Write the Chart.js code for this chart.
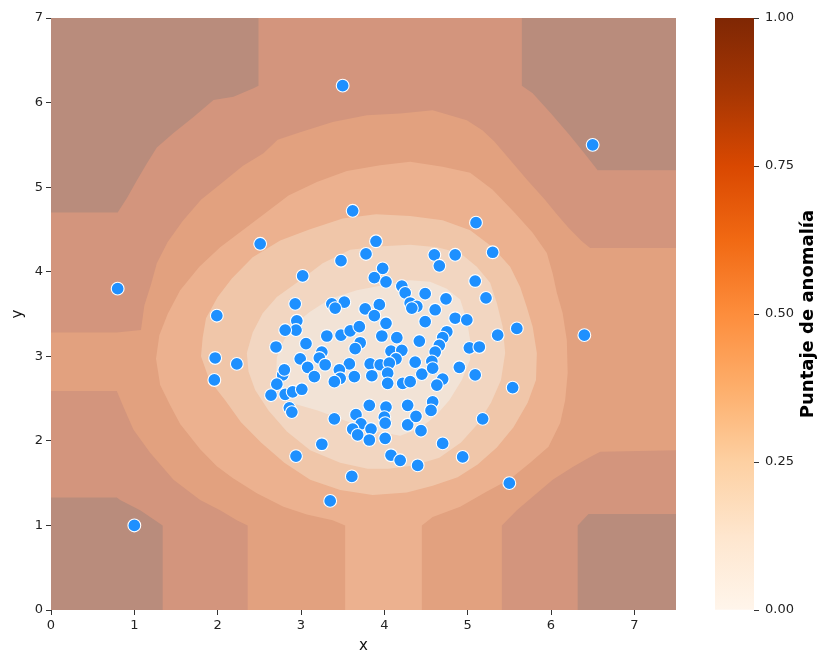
<!DOCTYPE html>
<html>
<head>
<meta charset="utf-8">
<script src="https://cdn.jsdelivr.net/npm/chart.js@4/dist/chart.umd.min.js"></script>
<style>
  html, body { margin: 0; padding: 0; background: #ffffff; }
  #wrap { position: relative; width: 818px; height: 651px; }
  #main { position: absolute; left: 0; top: 0; }
  #cbar { position: absolute; left: 700px; top: 0; }
</style>
</head>
<body>
<div id="wrap">
  <canvas id="main" width="700" height="651"></canvas>
  <canvas id="cbar" width="118" height="651"></canvas>
</div>
<script>
// Observations
const pointsX = [3.5, 6.5, 0.8, 1.0, 6.4, 5.5, 3.35, 3.61, 3.62, 2.51, 1.99, 1.97, 1.96, 2.23, 2.94, 3.25,
  5.10, 5.30, 5.22, 5.09, 5.59, 5.36, 5.54, 5.18, 4.94, 4.70, 4.40, 3.02, 3.48, 3.90, 3.78, 3.98,
  4.60, 4.85, 4.66, 3.88, 4.02, 4.21, 4.25, 4.31, 4.39, 4.33, 4.49, 4.74, 4.61, 4.85, 4.99, 4.49,
  4.75, 4.70, 4.66, 4.61, 4.42, 5.02, 5.14, 2.93, 3.37, 3.52, 3.41, 3.77, 3.94, 3.88, 4.02, 2.95,
  2.94, 2.81, 2.70, 3.06, 3.31, 3.48, 3.59, 3.70, 3.71, 3.65, 3.97, 4.15, 4.08, 4.21, 4.14, 2.99,
  3.25, 3.22, 3.08, 3.29, 3.16, 3.58, 3.46, 3.47, 3.40, 3.64, 3.83, 3.95, 3.85, 4.06, 4.04, 4.04,
  4.22, 4.31, 2.78, 2.80, 2.71, 2.64, 2.81, 2.90, 3.01, 2.86, 2.89, 3.40, 3.82, 4.02, 3.66, 3.72,
  3.84, 3.62, 3.68, 4.00, 4.01, 4.28, 4.28, 4.01, 4.08, 4.19, 4.90, 5.09, 4.57, 4.37, 4.45, 4.58,
  4.70, 4.63, 4.58, 4.56, 4.38, 4.44, 3.82];
const pointsY = [6.2, 5.5, 3.8, 1.0, 3.25, 1.5, 1.29, 1.58, 4.72, 4.33, 3.48, 2.98, 2.72, 2.91, 1.82, 1.96,
  4.58, 4.23, 3.69, 3.89, 3.33, 3.25, 2.63, 2.26, 1.81, 1.97, 1.71, 3.95, 4.13, 4.36, 4.21, 4.04,
  4.20, 4.20, 4.07, 3.93, 3.88, 3.83, 3.75, 3.63, 3.59, 3.57, 3.74, 3.68, 3.55, 3.45, 3.43, 3.41,
  3.29, 3.22, 3.13, 3.05, 3.18, 3.10, 3.11, 3.62, 3.62, 3.64, 3.57, 3.56, 3.61, 3.48, 3.39, 3.42,
  3.31, 3.31, 3.11, 3.15, 3.24, 3.25, 3.30, 3.35, 3.16, 3.09, 3.24, 3.22, 3.06, 3.07, 2.97, 2.97,
  3.05, 2.98, 2.87, 2.90, 2.76, 2.91, 2.84, 2.74, 2.70, 2.76, 2.91, 2.90, 2.77, 2.92, 2.80, 2.68,
  2.68, 2.70, 2.78, 2.84, 2.67, 2.54, 2.55, 2.58, 2.61, 2.39, 2.34, 2.26, 2.42, 2.40, 2.31, 2.20,
  2.14, 2.14, 2.07, 2.28, 2.21, 2.42, 2.19, 2.03, 1.83, 1.77, 2.87, 2.78, 2.94, 2.93, 2.79, 2.86,
  2.73, 2.66, 2.46, 2.36, 2.29, 2.12, 2.01];

// Filled anomaly-score bands, darkest (outermost) first; each band is the region inside its outline
const bandColors = ['#b98c7c', '#d3957d', '#e2a17f', '#ecb18f', '#f0c6a9', '#f2d6c1', '#f2e3d6'];

const band1 = [[0,4.70],[0.80,4.70],[0.91,4.87],[1.03,5.08],[1.15,5.28],[1.27,5.47],[1.47,5.64],[1.71,5.83],
  [1.95,6.03],[2.19,6.07],[2.43,6.17],[2.49,6.20],[2.49,7],[5.65,7],[5.65,6.20],[5.78,6.11],[6.00,5.87],
  [6.22,5.62],[6.40,5.40],[6.56,5.20],[7.5,5.20],[7.5,1.135],[6.45,1.135],[6.32,1.00],[6.32,0],[1.34,0],
  [1.34,1.00],[1.07,1.18],[0.83,1.30],[0.79,1.33],[0,1.33]];

const band2 = [[0,3.28],[0.79,3.28],[1.08,3.31],[1.12,3.60],[1.20,3.85],[1.27,4.10],[1.40,4.35],[1.58,4.60],
  [1.80,4.85],[2.05,5.05],[2.30,5.25],[2.55,5.40],[2.72,5.56],[2.99,5.65],[3.38,5.77],[3.79,5.85],[4.19,5.87],
  [4.58,5.91],[4.99,5.79],[5.18,5.67],[5.32,5.54],[5.51,5.32],[5.72,5.08],[5.92,4.86],[6.07,4.68],[6.21,4.52],
  [6.37,4.36],[6.47,4.28],[7.5,4.28],[7.5,1.89],[6.59,1.87],[6.47,1.81],[6.26,1.69],[6.02,1.54],[5.78,1.34],
  [5.59,1.18],[5.41,1.00],[5.41,0],[2.36,0],[2.36,1.00],[2.23,1.06],[2.03,1.18],[1.79,1.30],[1.47,1.54],
  [1.19,1.86],[0.99,2.13],[0.87,2.40],[0.79,2.59],[0,2.59]];

const band3 = [[1.26,2.97],[1.30,3.25],[1.40,3.50],[1.55,3.78],[1.78,4.06],[2.03,4.29],[2.30,4.49],[2.57,4.69],
  [2.85,4.90],[3.19,5.06],[3.55,5.19],[3.95,5.26],[4.31,5.30],[4.70,5.24],[5.03,5.17],[5.30,4.97],[5.57,4.69],
  [5.78,4.46],[5.95,4.22],[6.02,3.98],[6.07,3.75],[6.14,3.51],[6.19,3.19],[6.20,2.80],[6.17,2.48],[6.11,2.21],
  [5.97,1.93],[5.75,1.74],[5.51,1.55],[5.23,1.40],[4.91,1.22],[4.58,1.10],[4.45,1.00],[4.45,0],[3.53,0],
  [3.53,1.00],[3.38,1.06],[3.07,1.13],[2.79,1.22],[2.47,1.38],[2.18,1.56],[1.99,1.70],[1.79,1.90],[1.55,2.20],
  [1.43,2.42],[1.31,2.66]];

const band4 = [[1.80,3.00],[1.82,3.22],[1.86,3.45],[2.00,3.70],[2.17,3.92],[2.42,4.17],[2.75,4.37],[3.10,4.50],
  [3.50,4.63],[3.90,4.68],[4.31,4.66],[4.70,4.61],[5.03,4.49],[5.30,4.29],[5.51,4.06],[5.63,3.82],[5.71,3.58],
  [5.78,3.35],[5.83,3.04],[5.82,2.72],[5.72,2.45],[5.55,2.16],[5.35,1.92],[5.12,1.72],[4.88,1.57],[4.58,1.47],
  [4.27,1.39],[3.86,1.36],[3.47,1.42],[3.11,1.54],[2.80,1.74],[2.52,1.98],[2.28,2.22],[2.09,2.48],[1.90,2.72]];

const band5 = [[2.35,3.04],[2.42,3.28],[2.54,3.51],[2.71,3.70],[2.99,3.90],[3.26,4.10],[3.59,4.26],[3.98,4.30],
  [4.31,4.32],[4.63,4.29],[4.91,4.22],[5.11,4.06],[5.27,3.87],[5.35,3.63],[5.42,3.35],[5.45,3.04],[5.40,2.72],
  [5.28,2.45],[5.12,2.20],[4.92,1.98],[4.66,1.80],[4.35,1.71],[4.05,1.67],[3.80,1.67],[3.47,1.74],[3.11,1.89],
  [2.83,2.11],[2.61,2.36],[2.45,2.60],[2.37,2.82]];

const band6 = [[2.71,2.99],[2.80,3.20],[2.95,3.40],[3.10,3.52],[3.35,3.68],[3.67,3.78],[3.98,3.84],[4.31,3.90],
  [4.55,3.88],[4.75,3.80],[4.91,3.67],[4.99,3.43],[5.03,3.19],[5.03,2.96],[4.93,2.72],[4.78,2.48],[4.62,2.30],
  [4.43,2.15],[4.19,2.06],[3.86,2.12],[3.50,2.25],[3.20,2.36],[2.92,2.44],[2.75,2.58],[2.70,2.75]];

const bands = [band1, band2, band3, band4, band5, band6];

// Colour bar
const cbTicks = [0, 0.25, 0.5, 0.75, 1];
const orangesStops = ['#fff5eb', '#fee6ce', '#fdd0a2', '#fdae6b', '#fd8d3c', '#f16913', '#d94801', '#a63603', '#7f2704'];

const FONT = '"DejaVu Sans", "Liberation Sans", sans-serif';

const contourFill = {
  id: 'contourFill',
  beforeDatasetsDraw(chart) {
    const { ctx, chartArea: a, scales: { x, y } } = chart;
    ctx.save();
    ctx.beginPath();
    ctx.rect(a.left, a.top, a.right - a.left, a.bottom - a.top);
    ctx.clip();
    ctx.fillStyle = bandColors[0];
    ctx.fillRect(a.left, a.top, a.right - a.left, a.bottom - a.top);
    bands.forEach((poly, i) => {
      ctx.beginPath();
      poly.forEach(([vx, vy], k) => {
        const px = x.getPixelForValue(vx), py = y.getPixelForValue(vy);
        if (k === 0) ctx.moveTo(px, py); else ctx.lineTo(px, py);
      });
      ctx.closePath();
      ctx.fillStyle = bandColors[i + 1];
      ctx.fill();
    });
    ctx.restore();
  }
};

const tickFont = { family: FONT, size: 13 };

new Chart(document.getElementById('main'), {
  type: 'scatter',
  data: {
    datasets: [{
      data: pointsX.map((v, i) => ({ x: v, y: pointsY[i] })),
      pointRadius: 6.4,
      pointBackgroundColor: '#1e90ff',
      pointBorderColor: '#ffffff',
      pointBorderWidth: 1.1
    }]
  },
  options: {
    responsive: false,
    animation: false,
    layout: { padding: { left: 0, right: 24, top: 18, bottom: 0 } },
    plugins: { legend: { display: false }, tooltip: { enabled: false } },
    scales: {
      x: {
        type: 'linear', min: 0, max: 7.5,
        ticks: { stepSize: 1, includeBounds: false, color: '#222', font: tickFont, padding: 3, maxRotation: 0 },
        grid: { drawOnChartArea: false, tickLength: 5, color: '#333' },
        border: { display: false },
        title: { display: true, text: 'x', color: '#111', font: { family: FONT, size: 15, lineHeight: 0.6 }, padding: { top: 0, bottom: 0 } },
        afterFit(s) { s.height = 41; }
      },
      y: {
        type: 'linear', min: 0, max: 7,
        ticks: { stepSize: 1, color: '#222', font: tickFont, padding: 3 },
        grid: { drawOnChartArea: false, tickLength: 5, color: '#333' },
        border: { display: false },
        title: { display: true, text: 'y', color: '#111', font: { family: FONT, size: 15, lineHeight: 1 }, padding: { top: 11, bottom: 0 } },
        afterFit(s) { s.width = 51; }
      }
    }
  },
  plugins: [contourFill]
});

const cbTitle = {
  id: 'cbTitle',
  afterDraw(chart) {
    const { ctx, chartArea: a } = chart;
    ctx.save();
    ctx.font = 'bold 18px ' + FONT;
    ctx.fillStyle = '#000';
    ctx.textAlign = 'center';
    ctx.textBaseline = 'middle';
    ctx.translate(108, (a.top + a.bottom) / 2);
    ctx.rotate(-Math.PI / 2);
    ctx.fillText('Puntaje de anomalía', 0, 0);
    ctx.restore();
  }
};

new Chart(document.getElementById('cbar'), {
  type: 'bar',
  data: {
    labels: [''],
    datasets: [{
      data: [[cbTicks[0], cbTicks[cbTicks.length - 1]]],
      borderWidth: 0,
      barPercentage: 1,
      categoryPercentage: 1,
      backgroundColor(c) {
        const chart = c.chart;
        const ys = chart.scales.y;
        if (!ys || !chart.chartArea) return orangesStops[4];
        const g = chart.ctx.createLinearGradient(0, ys.getPixelForValue(0), 0, ys.getPixelForValue(1));
        orangesStops.forEach((col, i) => g.addColorStop(i / (orangesStops.length - 1), col));
        return g;
      }
    }]
  },
  options: {
    responsive: false,
    animation: false,
    layout: { padding: { left: 15, right: 0, top: 18, bottom: 41 } },
    plugins: { legend: { display: false }, tooltip: { enabled: false } },
    scales: {
      x: { display: false },
      y: {
        position: 'right', min: 0, max: 1,
        afterBuildTicks(s) { s.ticks = cbTicks.map(v => ({ value: v })); },
        ticks: { color: '#222', font: tickFont, padding: 6, callback: v => Number(v).toFixed(2) },
        grid: { drawOnChartArea: false, tickLength: 5, color: '#333' },
        border: { display: false },
        afterFit(s) { s.width = 64; }
      }
    }
  },
  plugins: [cbTitle]
});
</script>
</body>
</html>
